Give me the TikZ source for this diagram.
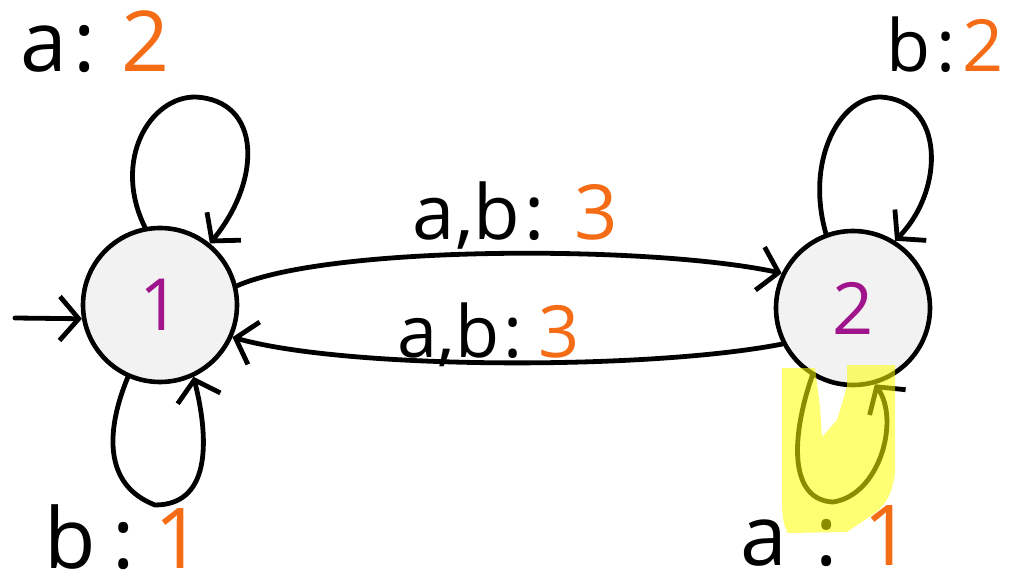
\documentclass[tikz,border=0pt]{standalone}
\usepackage{fontspec}
\setmainfont{Open Sans}
\usetikzlibrary{arrows.meta}
\definecolor{num}{RGB}{245,108,22}
\definecolor{st}{RGB}{160,20,140}
\definecolor{hl}{RGB}{255,255,0}
\begin{document}
\begin{tikzpicture}[x=1pt,y=-1pt, line width=5.5pt, line cap=round, line join=round,
 state/.style={circle, draw, line width=4.6pt, fill=black!5, minimum size=154pt, inner sep=0pt, text=st, font=\fontsize{72}{72}\selectfont},
 edge/.style={line width=4.8pt, -{Straight Barb[length=19pt,width=44pt,line width=4.8pt]}},
 lbl/.style={anchor=base west, inner sep=0pt, font=\fontsize{84}{84}\selectfont}]
\useasboundingbox (0,0) rectangle (1013,580);
\node[state] (n1) at (160,305) {1};
\node[state] (n2) at (853,308) {2};
\coordinate (init) at (15,318);
\draw[edge] (init) -- (n1.190);
% self loops
\draw[edge] (n1.101) .. controls (112,160) and (150,97) .. (195,97) .. controls (262,100) and (262,180) .. (n1.51);
\draw[edge] (n1.246) .. controls (106,430) and (103,485) .. (155,505) .. controls (215,505) and (207,430) .. (n1.295);
\draw[edge] (n2.110) .. controls (805,160) and (840,97) .. (880,97) .. controls (945,100) and (945,190) .. (n2.58);
\draw[edge] (n2.239) .. controls (790,440) and (790,500) .. (833,502) .. controls (880,495) and (900,420) .. (n2.286);
% transitions
\draw[edge] (n1.14) .. controls (330,245) and (650,245) .. (n2.154);
\draw[edge] (n2.207) .. controls (650,370) and (350,370) .. (n1.336);
% labels
\node[lbl] (l1) at (18,72) {a\hspace{6pt}:\hspace{26pt}{\color{num}2}};
\node[lbl, font=\fontsize{72}{72}\selectfont] (l2) at (884,72) {b\hspace{6pt}:\hspace{6pt}{\color{num}2}};
\node[lbl, font=\fontsize{76}{76}\selectfont] (l3) at (410,240) {a,b\hspace{4pt}:\hspace{30pt}{\color{num}3}};
\node[lbl, font=\fontsize{72}{72}\selectfont] (l4) at (395,357) {a,b\hspace{4pt}:\hspace{16pt}{\color{num}3}};
\node[lbl] (l5) at (42,568) {b\hspace{16pt}:\hspace{20pt}{\color{num}1}};
\node[lbl] (l6) at (738,565) {a\hspace{28pt}:\hspace{26pt}{\color{num}1}};
% highlight
\fill[hl, opacity=0.55] (782,368) -- (815,368) -- (820,407) -- (822,437) -- (837,420) -- (847,387) -- (847,365) -- (895,365) -- (895,473) .. controls (892,495) and (885,505) .. (875,513) -- (847,532) -- (788,533) .. controls (783,525) and (782,515) .. (782,500) -- cycle;
\end{tikzpicture}
\end{document}
